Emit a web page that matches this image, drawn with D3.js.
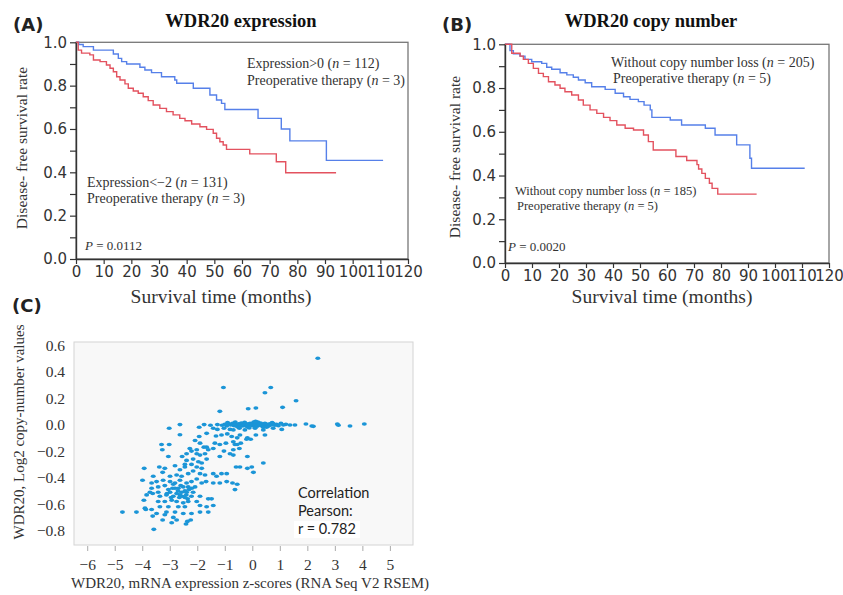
<!DOCTYPE html>
<html>
<head>
<meta charset="utf-8">
<script src="https://cdn.jsdelivr.net/npm/d3@7"></script>
<style>
  body { margin: 0; background: #fff; }
</style>
</head>
<body>
<svg id="fig" width="843" height="595"></svg>
<script>
// ---- data ----
// (A) WDR20 expression, Kaplan-Meier steps (months, survival)
const aHighTime = [0, 1, 2.6, 6.3, 13.5, 15.3, 16.5, 18.3, 23.1, 24.9, 27.3, 30.9, 35.7, 36.4, 42.4, 48.4, 50.8, 52.6, 53.8, 65.8, 74.2, 77.3, 90.5, 111];
const aHighSurv = [1.0, 0.99, 0.98, 0.964, 0.946, 0.926, 0.911, 0.90, 0.885, 0.872, 0.86, 0.841, 0.826, 0.811, 0.788, 0.757, 0.734, 0.718, 0.69, 0.649, 0.60, 0.545, 0.455, 0.455];
const aLowTime = [0, 0.8, 2, 5, 6.3, 8.7, 11, 12.3, 13.5, 14.7, 15.9, 17.7, 18.9, 20.7, 22.5, 24.3, 26.1, 27.9, 30.3, 32.7, 35.1, 37.5, 39.4, 41.8, 44.8, 47.2, 49.6, 50.8, 52, 53.2, 54.4, 62.8, 72.4, 75.8, 94];
const aLowSurv = [1.0, 0.964, 0.95, 0.942, 0.918, 0.911, 0.895, 0.88, 0.864, 0.841, 0.826, 0.808, 0.788, 0.775, 0.765, 0.749, 0.731, 0.711, 0.695, 0.68, 0.665, 0.649, 0.638, 0.623, 0.61, 0.598, 0.58, 0.557, 0.541, 0.526, 0.506, 0.485, 0.449, 0.398, 0.398];

// (B) WDR20 copy number
const bHighTime = [0, 1.85, 3.1, 5.55, 7.4, 9.9, 13.6, 15.45, 17.3, 20.4, 22.9, 25.3, 27.2, 29.7, 32.1, 37.1, 40.8, 43.9, 46.3, 49.4, 51.5, 53.8, 54.4, 61.2, 65.4, 74.2, 77.8, 85.8, 90.7, 91.3, 111];
const bHighSurv = [1.0, 0.971, 0.956, 0.946, 0.931, 0.92, 0.913, 0.895, 0.886, 0.87, 0.86, 0.849, 0.837, 0.824, 0.806, 0.794, 0.776, 0.76, 0.748, 0.738, 0.722, 0.70, 0.666, 0.654, 0.631, 0.616, 0.585, 0.54, 0.479, 0.433, 0.433];
const bLowTime = [0, 2.5, 5.6, 6.8, 8.65, 10.5, 12.4, 14.2, 16.1, 18.5, 20.4, 22.2, 24.7, 27.2, 29, 31.5, 34, 36.5, 38.9, 41.4, 44.5, 47.6, 51.3, 53.1, 54.9, 63.3, 67.3, 71.1, 71.7, 72.9, 74.2, 75.7, 76.7, 78.8, 93.2];
const bLowSurv = [1.0, 0.959, 0.946, 0.931, 0.913, 0.89, 0.867, 0.852, 0.829, 0.814, 0.799, 0.783, 0.768, 0.745, 0.722, 0.70, 0.684, 0.666, 0.651, 0.631, 0.616, 0.608, 0.585, 0.555, 0.517, 0.487, 0.469, 0.45, 0.43, 0.41, 0.387, 0.365, 0.341, 0.315, 0.315];

const kmXTicks = [0, 10, 20, 30, 40, 50, 60, 70, 80, 90, 100, 110, 120];
const kmYTicks = [0, 0.1, 0.2, 0.3, 0.4, 0.5, 0.6, 0.7, 0.8, 0.9, 1.0];

// (C) mRNA z-score vs log2 copy number
const scatterPoints = [
  [2.38, 0.50], [-1.05, 0.28], [0.67, 0.28], [0.46, 0.24], [1.59, 0.18], [-1.18, 0.10], [1.10, 0.13], [-0.15, 0.12], [0.13, 0.125],
  [-1.27, 0.0], [-1.10, -0.005], [-1.0, 0.003], [-0.93, -0.01], [-0.85, 0.005], [-0.78, -0.003], [-0.72, 0.01], [-0.66, -0.008],
  [-0.60, 0.003], [-0.55, -0.015], [-0.50, 0.006], [-0.45, -0.004], [-0.40, 0.012], [-0.35, -0.01], [-0.30, 0.0], [-0.25, 0.008],
  [-0.21, -0.012], [-0.17, 0.004], [-0.12, -0.006], [-0.08, 0.01], [-0.04, -0.003], [0.0, 0.006], [0.03, -0.01], [0.07, 0.015],
  [0.10, -0.004], [0.14, 0.002], [0.18, -0.012], [0.22, 0.008], [0.26, -0.002], [0.30, 0.012], [0.34, -0.008], [0.38, 0.004],
  [0.42, -0.003], [0.46, 0.01], [0.50, -0.006], [0.55, 0.003], [0.60, -0.01], [0.64, 0.006], [0.70, -0.003], [0.76, 0.008],
  [0.82, -0.004], [0.88, 0.002], [0.95, -0.008], [1.04, 0.01], [1.13, -0.003], [1.22, 0.002], [-0.62, 0.02], [-0.28, 0.018],
  [0.05, 0.02], [0.20, 0.02], [0.40, -0.02], [-0.48, -0.02], [0.72, 0.015], [-0.9, 0.015], [0.12, 0.025], [-0.15, -0.02],
  [1.37, -0.003], [1.55, -0.003], [1.95, 0.005], [2.16, -0.01], [2.22, -0.013], [3.09, 0.005], [3.13, -0.005], [3.55, -0.01], [4.07, 0.005],
  [-2.63, 0.0], [-1.75, 0.0], [-1.52, -0.005], [-3.02, -0.028],
  [-1.93, -0.02], [-1.42, -0.028], [-1.27, -0.036], [-1.03, -0.028], [-0.81, -0.036], [-0.69, -0.04], [-0.47, -0.028], [-0.27, -0.04],
  [-0.11, -0.026], [0.10, -0.028], [0.40, -0.04], [0.52, -0.02], [0.76, -0.028], [1.07, -0.036],
  [-2.63, -0.076], [-1.93, -0.09], [-1.66, -0.066], [-1.32, -0.086], [-1.12, -0.078], [-0.91, -0.07], [-0.75, -0.09], [-0.55, -0.10],
  [-0.45, -0.078], [-0.18, -0.10], [0.13, -0.078], [0.46, -0.078],
  [-3.30, -0.15], [-3.02, -0.15], [-2.08, -0.12], [-1.90, -0.14], [-1.66, -0.17], [-1.36, -0.14], [-1.18, -0.15], [-0.96, -0.14],
  [-0.69, -0.13], [-0.63, -0.15], [-0.55, -0.15], [-0.42, -0.14], [-0.21, -0.11], [-0.06, -0.11],
  [-3.27, -0.19], [-2.27, -0.18], [-2.02, -0.19], [-1.76, -0.17], [-1.60, -0.19], [-1.42, -0.18], [-0.69, -0.19], [-0.47, -0.18],
  [-3.05, -0.24], [-2.55, -0.24], [-2.39, -0.22], [-2.21, -0.20], [-2.02, -0.22], [-1.90, -0.23], [-1.72, -0.22], [-1.18, -0.24],
  [-1.03, -0.20], [-0.81, -0.22], [-0.69, -0.23], [-0.18, -0.24], [0.40, -0.29], [-2.39, -0.27], [-2.15, -0.26], [-1.96, -0.28],
  [-1.66, -0.26], [-2.45, -0.30], [-2.21, -0.30], [-1.84, -0.29],
  [-3.93, -0.33], [-3.38, -0.32], [-3.18, -0.33], [-2.81, -0.31], [-2.63, -0.34], [-2.45, -0.32], [-2.02, -0.32], [-1.84, -0.33],
  [-2.33, -0.37], [-2.15, -0.35], [-1.90, -0.37], [-1.72, -0.38], [-1.42, -0.37], [-1.12, -0.37], [-0.93, -0.37], [-0.59, -0.32],
  [-0.45, -0.32], [-0.02, -0.32], [0.04, -0.36], [-0.18, -0.33], [-3.26, -0.36], [-3.60, -0.39], [-2.99, -0.39], [-2.75, -0.38],
  [-2.57, -0.39], [-1.30, -0.39],
  [-3.99, -0.42], [-3.66, -0.44], [-3.48, -0.43], [-3.24, -0.42], [-2.99, -0.43], [-2.81, -0.44], [-2.63, -0.42], [-2.39, -0.44],
  [-2.21, -0.43], [-2.02, -0.41], [-1.84, -0.44], [-1.68, -0.43], [-1.42, -0.44], [-1.18, -0.44], [-0.93, -0.43], [-0.72, -0.44],
  [-0.55, -0.45], [-2.87, -0.45], [-3.66, -0.48], [-3.42, -0.47], [-3.18, -0.46], [-3.05, -0.49], [-2.81, -0.48], [-2.69, -0.48],
  [-2.51, -0.47], [-2.33, -0.47], [-2.08, -0.47], [-0.63, -0.49], [-3.72, -0.51], [-3.42, -0.51], [-2.99, -0.51], [-2.75, -0.52],
  [-2.57, -0.51], [-2.39, -0.51], [-2.15, -0.51],
  [-2.45, -0.50], [-2.30, -0.49], [-2.60, -0.46], [-2.70, -0.50], [-2.90, -0.48], [-2.40, -0.53], [-2.55, -0.54], [-2.20, -0.48],
  [-2.65, -0.55], [-2.35, -0.56], [-3.10, -0.52], [-2.95, -0.55],
  [-3.84, -0.53], [-3.62, -0.52], [-3.36, -0.54], [-3.12, -0.53], [-2.87, -0.54], [-2.63, -0.53], [-2.45, -0.55], [-2.21, -0.54],
  [-1.90, -0.54], [-1.60, -0.56], [-1.48, -0.56], [-3.94, -0.57], [-3.42, -0.58], [-3.18, -0.58], [-2.93, -0.57], [-2.75, -0.58],
  [-2.51, -0.59], [-2.33, -0.58], [-2.02, -0.58], [-1.42, -0.61], [-3.90, -0.63], [-3.66, -0.64], [-3.36, -0.62], [-3.05, -0.62],
  [-2.69, -0.62], [-2.45, -0.62], [-1.90, -0.61], [-1.66, -0.62],
  [-4.72, -0.66], [-4.21, -0.66], [-3.87, -0.64], [-3.48, -0.67], [-3.12, -0.66], [-2.81, -0.66], [-2.51, -0.67], [-2.21, -0.67],
  [-1.90, -0.66], [-1.60, -0.66], [-3.62, -0.69], [-3.18, -0.68], [-2.87, -0.70], [-3.26, -0.72], [-2.93, -0.74], [-2.75, -0.72],
  [-2.41, -0.75], [-2.36, -0.73], [-2.24, -0.72], [-3.58, -0.79]
];
const scatterXTicks = [-6, -5, -4, -3, -2, -1, 0, 1, 2, 3, 4, 5];
const scatterYTicks = [0.6, 0.4, 0.2, 0.0, -0.2, -0.4, -0.6, -0.8];

// ---- styling ----
const serif = "'Liberation Serif', 'Times New Roman', serif";
const sans = "'DejaVu Sans', Verdana, sans-serif";
const blue = "#5680e9";
const red = "#e3525f";
const textCol = "#333";

const svg = d3.select("#fig");
svg.append("rect").attr("width", 843).attr("height", 595).attr("fill", "#fff");

// writes a line of text made of [string, italic] parts
const note = (g, x, y, parts, size, anchor = "start") => {
  const t = g.append("text")
    .attr("x", x).attr("y", y)
    .attr("font-family", serif)
    .attr("font-size", size)
    .attr("fill", textCol)
    .attr("text-anchor", anchor);
  parts.forEach(([s, it]) => {
    t.append("tspan").attr("font-style", it ? "italic" : "normal").text(s);
  });
  return t;
};

const panelLabel = (x, y, s) => {
  svg.append("text")
    .attr("x", x).attr("y", y)
    .attr("font-family", sans)
    .attr("font-weight", "bold")
    .attr("font-size", 18)
    .attr("fill", "#222")
    .text(s);
};

// Draws one Kaplan-Meier panel
const drawKM = (p) => {
  const x = d3.scaleLinear().domain([0, 120]).range([p.left, p.right]);
  const y = d3.scaleLinear().domain([0, 1]).range([p.bottom, p.top]);
  const g = svg.append("g");

  g.append("rect")
    .attr("x", p.left).attr("y", p.top)
    .attr("width", p.right - p.left).attr("height", p.bottom - p.top)
    .attr("fill", "none").attr("stroke", "#777").attr("stroke-width", 1.3);

  const line = d3.line()
    .x(d => x(d[0]))
    .y(d => y(d[1]))
    .curve(d3.curveStepAfter);

  p.series.forEach(s => {
    const pts = s.time.map((t, i) => [t, s.surv[i]]);
    g.append("path")
      .attr("d", line(pts))
      .attr("fill", "none")
      .attr("stroke", s.color)
      .attr("stroke-width", 1.4);
  });

  const xAxis = g.append("g")
    .attr("transform", `translate(0,${p.bottom})`)
    .call(d3.axisBottom(x).tickValues(kmXTicks).tickSize(5).tickSizeOuter(0).tickPadding(2));
  const yAxis = g.append("g")
    .attr("transform", `translate(${p.left},0)`)
    .call(d3.axisLeft(y).tickValues(kmYTicks).tickSize(6).tickSizeOuter(0).tickPadding(3)
      .tickFormat(d => Math.round(d * 10) % 2 === 0 ? d3.format(".1f")(d) : ""));
  [xAxis, yAxis].forEach(a => {
    a.select(".domain").attr("stroke", "#333").attr("stroke-width", 1.4);
    a.selectAll(".tick line").attr("stroke", "#333").attr("stroke-width", 1.2);
    a.selectAll("text").attr("font-family", sans).attr("font-size", 15).attr("fill", textCol);
  });

  svg.append("text")
    .attr("x", p.titleX).attr("y", 27)
    .attr("text-anchor", "middle")
    .attr("font-family", serif).attr("font-weight", "bold")
    .attr("font-size", 18.5).attr("fill", "#111")
    .text(p.title);

  svg.append("text")
    .attr("transform", `translate(${p.yLabelX},${p.yLabelY}) rotate(-90)`)
    .attr("text-anchor", "middle")
    .attr("font-family", serif).attr("font-size", 15.5).attr("fill", textCol)
    .text("Disease- free survival rate");

  svg.append("text")
    .attr("x", p.xLabelX).attr("y", 303)
    .attr("text-anchor", "middle")
    .attr("font-family", serif).attr("font-size", 19.5).attr("fill", textCol)
    .text("Survival time (months)");

  p.notes.forEach(n => note(g, n.x, n.y, n.parts, n.size));
};

drawKM({
  left: 76, right: 408, top: 42.3, bottom: 259,
  title: "WDR20 expression", titleX: 241,
  yLabelX: 27, yLabelY: 148, xLabelX: 221,
  series: [
    { time: aHighTime, surv: aHighSurv, color: blue },
    { time: aLowTime, surv: aLowSurv, color: red }
  ],
  notes: [
    { x: 247, y: 68, size: 14, parts: [["Expression>0 (", 0], ["n", 1], [" = 112)", 0]] },
    { x: 247, y: 85, size: 14, parts: [["Preoperative therapy (", 0], ["n", 1], [" = 3)", 0]] },
    { x: 87, y: 187, size: 14, parts: [["Expression<\u22122 (", 0], ["n", 1], [" = 131)", 0]] },
    { x: 87, y: 203, size: 14, parts: [["Preoperative therapy (", 0], ["n", 1], [" = 3)", 0]] },
    { x: 85, y: 250, size: 13, parts: [["P", 1], [" = 0.0112", 0]] }
  ]
});

drawKM({
  left: 505, right: 829, top: 44.3, bottom: 263,
  title: "WDR20 copy number", titleX: 651,
  yLabelX: 460, yLabelY: 157, xLabelX: 662,
  series: [
    { time: bHighTime, surv: bHighSurv, color: blue },
    { time: bLowTime, surv: bLowSurv, color: red }
  ],
  notes: [
    { x: 611, y: 67, size: 14, parts: [["Without copy number loss (", 0], ["n", 1], [" = 205)", 0]] },
    { x: 613, y: 83, size: 14, parts: [["Preoperative therapy (", 0], ["n", 1], [" = 5)", 0]] },
    { x: 515, y: 195, size: 12.5, parts: [["Without copy number loss (", 0], ["n", 1], [" = 185)", 0]] },
    { x: 517, y: 210, size: 12.5, parts: [["Preoperative therapy (", 0], ["n", 1], [" = 5)", 0]] },
    { x: 508, y: 251, size: 13, parts: [["P", 1], [" = 0.0020", 0]] }
  ]
});

panelLabel(13, 31, "(A)");
panelLabel(442, 31, "(B)");
panelLabel(12, 312, "(C)");

// ---- (C) scatter ----
const sx = d3.scaleLinear().domain([-6.48, 5.84]).range([74, 413]);
const sy = d3.scaleLinear().domain([-0.908, 0.623]).range([545, 342]);
const gc = svg.append("g");

gc.append("rect")
  .attr("x", sx.range()[0]).attr("y", sy.range()[1])
  .attr("width", sx.range()[1] - sx.range()[0])
  .attr("height", sy.range()[0] - sy.range()[1])
  .attr("fill", "#f8f8f8").attr("stroke", "#d4d4d4").attr("stroke-width", 1);

gc.append("g")
  .selectAll("ellipse")
  .data(scatterPoints)
  .join("ellipse")
  .attr("cx", d => sx(d[0]))
  .attr("cy", d => sy(d[1]))
  .attr("rx", 2.5).attr("ry", 1.8)
  .attr("fill", "#1b95d7");

// correlation box
const corr = gc.append("g");
corr.append("rect")
  .attr("x", 294).attr("y", 521).attr("width", 66).attr("height", 17)
  .attr("fill", "#fff");
["Correlation", "Pearson:", "r = 0.782"].forEach((s, i) => {
  corr.append("text")
    .attr("x", 298).attr("y", 498 + i * 18)
    .attr("font-family", "Lato, 'Open Sans', sans-serif")
    .attr("font-size", 14.5).attr("fill", "#222")
    .text(s);
});

const cx = gc.append("g")
  .attr("transform", `translate(0,${sy.range()[0] + 1})`)
  .call(d3.axisBottom(sx).tickValues(scatterXTicks).tickSize(5).tickPadding(8)
    .tickFormat(d => d < 0 ? "\u2212" + Math.abs(d) : d));
cx.select(".domain").remove();
cx.selectAll(".tick line").attr("stroke", "#aaa");
cx.selectAll("text").attr("font-family", serif).attr("font-size", 15.5).attr("fill", textCol);

const cy = gc.append("g")
  .attr("transform", `translate(${sx.range()[0]},0)`)
  .call(d3.axisLeft(sy).tickValues(scatterYTicks).tickSize(0).tickPadding(9)
    .tickFormat(d => d < 0 ? "\u2212" + d3.format(".1f")(-d) : d3.format(".1f")(d)));
cy.select(".domain").remove();
cy.selectAll("text").attr("font-family", serif).attr("font-size", 15.5).attr("fill", textCol);

svg.append("text")
  .attr("x", 250).attr("y", 588)
  .attr("text-anchor", "middle")
  .attr("font-family", serif).attr("font-size", 15).attr("fill", textCol)
  .text("WDR20, mRNA expression z-scores (RNA Seq V2 RSEM)");

svg.append("text")
  .attr("transform", "translate(24,432) rotate(-90)")
  .attr("text-anchor", "middle")
  .attr("font-family", serif).attr("font-size", 15).attr("fill", textCol)
  .text("WDR20, Log2 copy-number values");
</script>
</body>
</html>
